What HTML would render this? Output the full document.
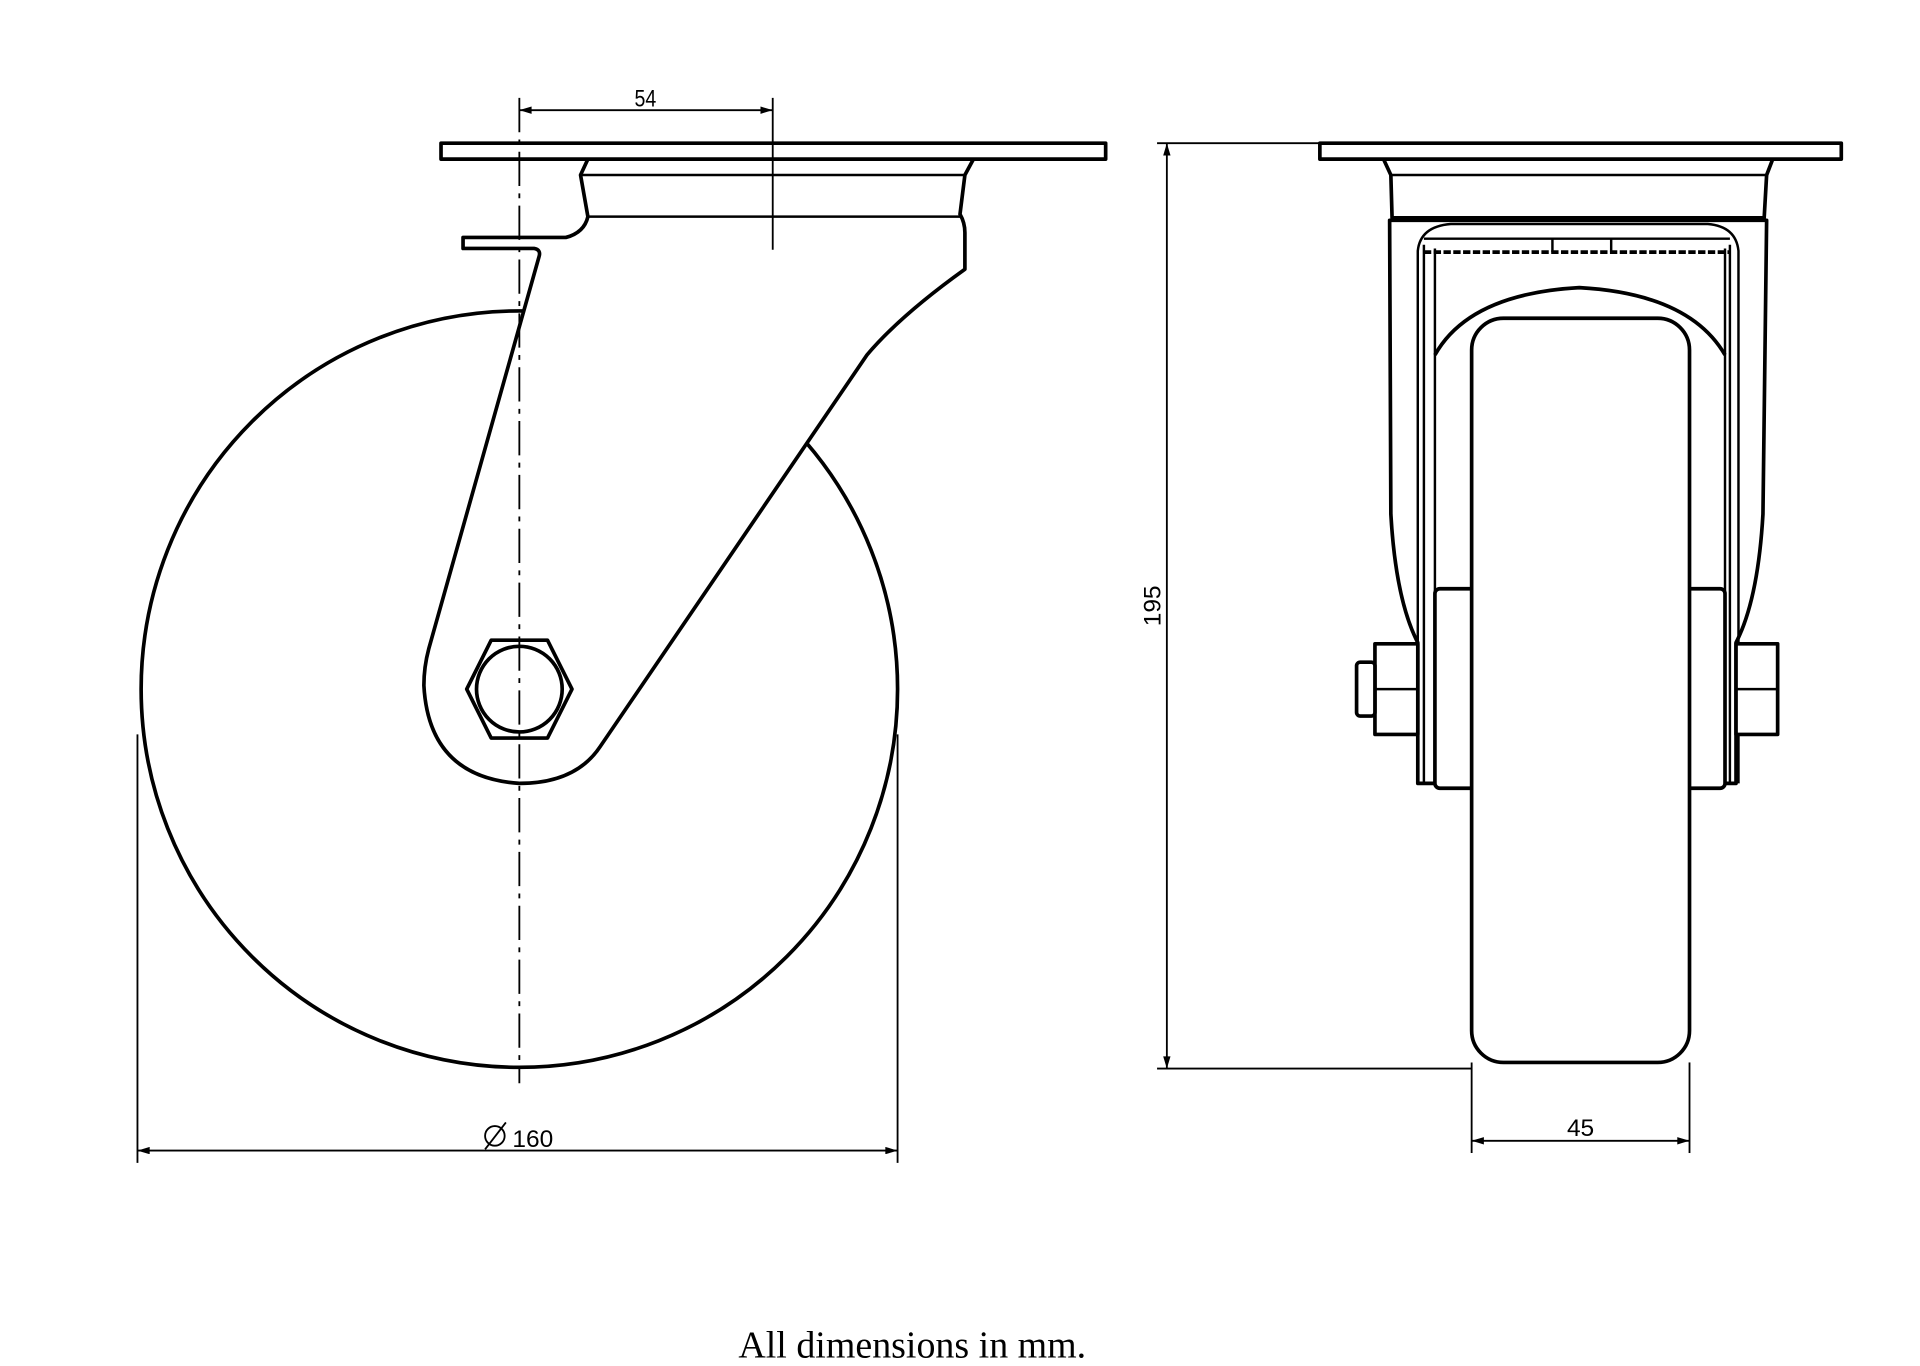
<!DOCTYPE html>
<html><head><style>html,body{margin:0;padding:0;background:#fff}svg{display:block}</style></head><body>
<svg width="1920" height="1366" viewBox="0 0 1568 1116" xmlns="http://www.w3.org/2000/svg">
<defs>
<marker id="a" viewBox="0 0 10 6" refX="10" refY="3" markerWidth="14" markerHeight="6" markerUnits="userSpaceOnUse" orient="auto-start-reverse"><path d="M0,0 L10,3 L0,6 Z" fill="#000"/></marker>
</defs>
<g fill="#fff" stroke="#000" stroke-width="3" stroke-linejoin="round">
<circle cx="424" cy="563" r="309"/>
<path d="M440,210 Q442,204 436,203 L378,203 L378,194 L462,194 Q477,190 480,177 L474,143 L480,130 L795,130 L788,143 L784,175 Q788,182 788,190 L788,220 Q735,258 708,290 L490,610 Q470,640 424,640 Q350,635 346,560 Q346,545 350,530 Z"/>
<rect x="360" y="117" width="543" height="13"/>
<line x1="474" y1="143" x2="788" y2="143" stroke-width="2"/>
<line x1="480" y1="177" x2="784" y2="177" stroke-width="2"/>
<polygon points="401,523 447,523 467,563 447,603 401,603 381,563"/>
<circle cx="424" cy="563" r="35"/>
<path d="M1135,180 L1136,420 Q1140,490 1158,525 L1158,640 L1418,640 L1418,525 Q1436,490 1440,420 L1443,180 Z"/>
<path d="M1130,130 L1136,143 L1137,178 L1441,178 L1443,143 L1448,130 Z"/>
<line x1="1137" y1="143" x2="1443" y2="143" stroke-width="2"/>
<rect x="1078" y="117" width="426" height="13"/>
<path d="M1158,640 L1158,205 Q1160,185 1185,183 L1395,183 Q1418,185 1420,205 L1420,640" fill="none" stroke-width="2"/>
<line x1="1163" y1="200" x2="1163" y2="640" stroke-width="2"/>
<line x1="1413" y1="200" x2="1413" y2="640" stroke-width="2"/>
<line x1="1172" y1="203" x2="1172" y2="640" stroke-width="2"/>
<line x1="1409" y1="203" x2="1409" y2="640" stroke-width="2"/>
<line x1="1163" y1="195" x2="1413" y2="195" stroke-width="2"/>
<line x1="1163" y1="206" x2="1413" y2="206" stroke-width="3" stroke-dasharray="6,2"/>
<line x1="1268" y1="195" x2="1268" y2="206" stroke-width="2"/>
<line x1="1316" y1="195" x2="1316" y2="206" stroke-width="2"/>
<path d="M1172,290 Q1200,240 1290,235 Q1380,240 1409,290" fill="none"/>
<rect x="1172" y="481" width="237" height="163" rx="4"/>
<rect x="1202" y="260" width="178" height="608" rx="26"/>
<rect x="1123" y="526" width="35" height="74"/>
<line x1="1123" y1="563" x2="1158" y2="563" stroke-width="2"/>
<rect x="1108" y="541" width="15" height="44" rx="3"/>
<rect x="1418" y="526" width="34" height="74"/>
<line x1="1418" y1="563" x2="1452" y2="563" stroke-width="2"/>
</g>
<g stroke="#000" stroke-width="1.5" fill="none">
<line x1="424" y1="80" x2="424" y2="885" stroke-dasharray="28,6,4,6"/>
<line x1="631" y1="80" x2="631" y2="204"/>
<line x1="424" y1="90" x2="631" y2="90" marker-start="url(#a)" marker-end="url(#a)"/>
<line x1="112" y1="600" x2="112" y2="950"/>
<line x1="733" y1="600" x2="733" y2="950"/>
<line x1="112" y1="940" x2="733" y2="940" marker-start="url(#a)" marker-end="url(#a)"/>
<line x1="945" y1="117" x2="1078" y2="117"/>
<line x1="945" y1="873" x2="1202" y2="873"/>
<line x1="953" y1="117" x2="953" y2="873" marker-start="url(#a)" marker-end="url(#a)"/>
<line x1="1202" y1="868" x2="1202" y2="942"/>
<line x1="1380" y1="868" x2="1380" y2="942"/>
<line x1="1202" y1="932" x2="1380" y2="932" marker-start="url(#a)" marker-end="url(#a)"/>
<circle cx="404" cy="928" r="8"/>
<line x1="396" y1="939" x2="413" y2="917"/>
</g>
<g font-family="'Liberation Sans',sans-serif" font-size="20" fill="#000" text-anchor="middle">
<text x="527" y="87" transform="scale(0.8,1) translate(131.75,0)">54</text>
<text x="435" y="937">160</text>
<text x="1291" y="928">45</text>
<text transform="translate(948,495) rotate(-90)">195</text>
</g>
<text x="745" y="1109" font-family="'Liberation Serif',serif" font-size="31" text-anchor="middle" fill="#000">All dimensions in mm.</text>
</svg>
</body></html>
